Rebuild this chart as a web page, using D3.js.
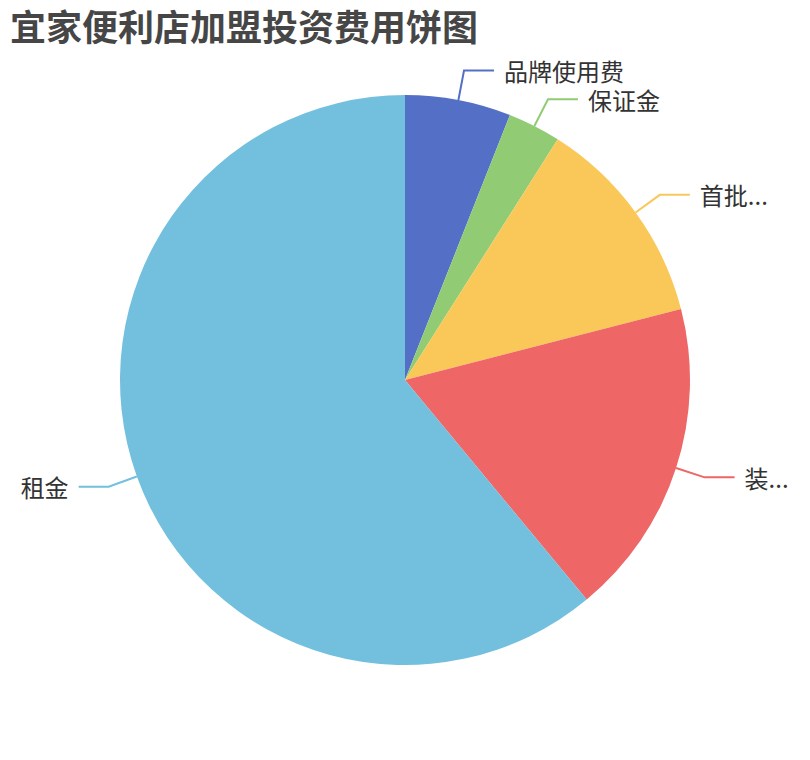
<!DOCTYPE html>
<html>
<head>
<meta charset="utf-8">
<script src="https://cdn.jsdelivr.net/npm/d3@7"></script>
<style>
  body { margin: 0; background: #fff; }
  svg { display: block; font-family: "Noto Sans CJK SC", "Noto Sans", sans-serif; }
</style>
</head>
<body>
<div id="chart"></div>
<script>
// data
const titleText = "宜家便利店加盟投资费用饼图"
const categories = ["品牌使用费", "保证金", "首批...", "装...", "租金"]
const values = [6, 3, 12, 18, 61]
const colors = ["#5470c6", "#91cc75", "#fac858", "#ee6666", "#73c0de"]

const width = 810
const height = 760
const cx = width / 2
const cy = height / 2
const radius = Math.min(width, height) / 2 * 0.75
const len1 = 30, len2 = 30, gap = 10

const svg = d3.select("#chart").append("svg")
    .attr("width", width)
    .attr("height", height)

// title
svg.append("text")
    .attr("x", 10)
    .attr("y", 25)
    .attr("dominant-baseline", "central")
    .attr("font-size", 36)
    .attr("font-weight", "bold")
    .attr("fill", "#464646")
    .text(titleText)

const data = categories.map(function (c, i) { return { name: c, value: values[i], color: colors[i] } })

const pie = d3.pie().sort(null).value(function (d) { return d.value })
const arc = d3.arc().innerRadius(0).outerRadius(radius)

const g = svg.append("g").attr("transform", "translate(" + cx + "," + cy + ")")
const arcs = pie(data)

g.selectAll("path.slice")
    .data(arcs)
    .enter().append("path")
    .attr("class", "slice")
    .attr("d", arc)
    .attr("fill", function (d) { return d.data.color })

// label lines + labels
arcs.forEach(function (d) {
    const mid = (d.startAngle + d.endAngle) / 2
    const sx = Math.sin(mid), sy = -Math.cos(mid)
    const p0 = [radius * sx, radius * sy]
    const p1 = [(radius + len1) * sx, (radius + len1) * sy]
    const right = sx >= 0
    const p2 = [p1[0] + (right ? len2 : -len2), p1[1]]

    g.append("polyline")
        .attr("points", [p0, p1, p2].map(function (p) { return p.join(",") }).join(" "))
        .attr("fill", "none")
        .attr("stroke", d.data.color)
        .attr("stroke-width", 2)

    g.append("text")
        .attr("x", p2[0] + (right ? gap : -gap))
        .attr("y", p2[1])
        .attr("dominant-baseline", "central")
        .attr("text-anchor", right ? "start" : "end")
        .attr("font-size", 24)
        .attr("fill", "#333")
        .text(d.data.name)
})
</script>
</body>
</html>
